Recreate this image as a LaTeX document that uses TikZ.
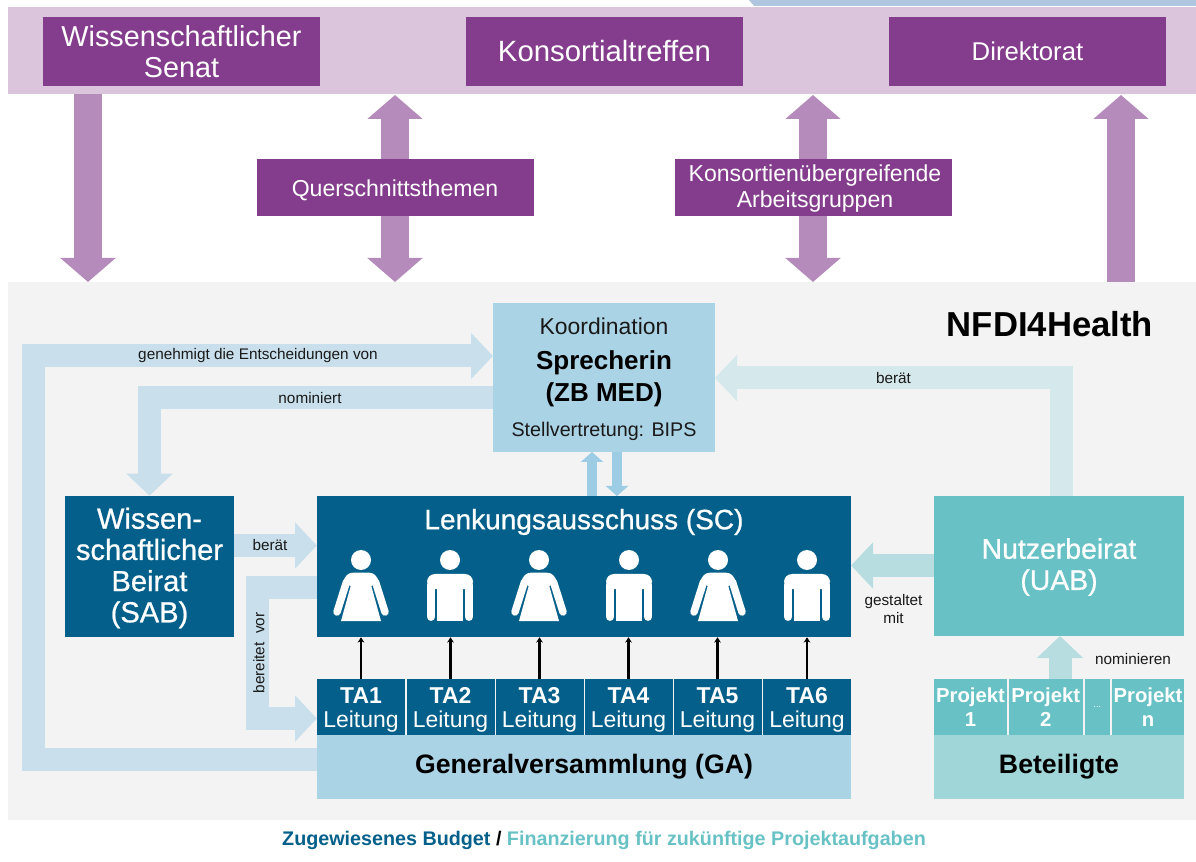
\documentclass[tikz,border=0pt]{standalone}
\usepackage{fontspec}
\setmainfont{Liberation Sans}
\newfontfamily\mediumfont[FakeBold=0.8]{Liberation Sans}
\usetikzlibrary{arrows.meta}
\definecolor{bandlila}{HTML}{DBC5DD}
\definecolor{boxlila}{HTML}{843D8C}
\definecolor{pfeillila}{HTML}{B58BBB}
\definecolor{topblau}{HTML}{AFC6DE}
\definecolor{grundgrau}{HTML}{F3F3F3}
\definecolor{dunkelblau}{HTML}{04608A}
\definecolor{hellblau}{HTML}{ABD3E6}
\definecolor{pfeilblau}{HTML}{C9E0EC}
\definecolor{mittelblau}{HTML}{9CCDE4}
\definecolor{tuerkis}{HTML}{68C2C5}
\definecolor{helltuerkis}{HTML}{A0D6D8}
\definecolor{pfeiltuerkis}{HTML}{B7DDE0}
\definecolor{blasstuerkis}{HTML}{D5E8EC}
\newcommand{\px}{.75pt}
\newcommand{\fsz}[2]{\fontsize{#1}{#2}\selectfont}
\tikzset{
box/.style={inner sep=0pt, align=center, text=white},
lilabox/.style={box, fill=boxlila, minimum width=277*\px},
tabox/.style={box, fill=dunkelblau, minimum width=88*\px, minimum height=56*\px, font=\fsz{17.2}{18}},
projbox/.style={box, fill=tuerkis, minimum height=56*\px},
lbl/.style={inner sep=0pt, align=center, text=black!90, font=\fsz{11.5}{14}},
lilaarrow/.style={line width=28*\px, draw=pfeillila, line join=miter},
flow/.style={line width=23*\px, line join=miter, -{Triangle[length=22*\px, width=45*\px]}},
slim/.style={line width=10.5*\px, draw=mittelblau, -{Triangle[length=10*\px, width=22*\px, fill=mittelblau]}},
leitarrow/.style={-{Stealth[length=4pt, width=5pt]}, line width=2.2pt, black},
pics/womanfig/.style={code={
\fill [white] (0,0) circle (10);
\fill [white] (0,12.7) -- (8,12.7) .. controls (13,12.7) and (16,16) .. (18,22) -- (10.3,26) -- (20,61) -- (-20,61) -- (-10.3,26) -- (-18,22) .. controls (-16,16) and (-13,12.7) .. (-8,12.7) -- cycle;
\draw [white, line width=7.5*\px, line cap=round] (14.5,22) -- (24,52);
\draw [white, line width=7.5*\px, line cap=round] (-14.5,22) -- (-24,52);
}},
pics/manfig/.style={code={
\fill [white] (0,0) circle (10);
\fill [white, rounded corners=6pt] (-23,14) rectangle (23,29);
\fill [white] (-13.3,20) rectangle (13.3,61);
\draw [white, line width=8.3*\px, line cap=round] (-18.9,25) -- (-18.9,56.8);
\draw [white, line width=8.3*\px, line cap=round] (18.9,25) -- (18.9,56.8);
}}
}
\begin{document}
\begin{tikzpicture}[x=\px, y=-\px]
\useasboundingbox (0,0) rectangle (1196,862);
\fill [topblau] (749,0) -- (754,6) -- (1196,6) -- (1196,0) -- cycle;
\fill [bandlila] (8,7) rectangle (1196,94);
\fill [grundgrau] (8,282) rectangle (1196,820);

\node [lilabox, minimum height=69*\px, font=\fsz{21.6}{23}] (senat) at (181.5,51.5) {Wissenschaftlicher\\Senat};
\node [lilabox, minimum height=69*\px, font=\fsz{22}{24}] (treffen) at (604.5,51.5) {Konsortialtreffen};
\node [lilabox, minimum height=69*\px, font=\fsz{19.3}{22}] (direktorat) at (1027.5,51.5) {Direktorat};

\coordinate (senatout) at (88,94);
\coordinate (senatin) at (88,282);
\coordinate (querup) at (395,95);
\coordinate (querdown) at (395,282);
\coordinate (agup) at (813,95);
\coordinate (agdown) at (813,282);
\coordinate (dirup) at (1121,95);
\coordinate (dirdown) at (1121,282);
\draw [lilaarrow, -{Triangle[length=24*\px, width=54*\px]}] (senatout) -- (senatin);
\draw [lilaarrow, {Triangle[length=24*\px, width=54*\px]}-{Triangle[length=24*\px, width=54*\px]}] (querup) -- (querdown);
\draw [lilaarrow, {Triangle[length=24*\px, width=54*\px]}-{Triangle[length=24*\px, width=54*\px]}] (agup) -- (agdown);
\draw [lilaarrow, -{Triangle[length=24*\px, width=54*\px]}] (dirdown) -- (dirup);

\node [lilabox, minimum height=57*\px] (quer) at (395.5,187.5) {};
\node [box, font=\fsz{17.3}{19.5}] (quertxt) at (395,190) {Querschnittsthemen};
\node [lilabox, minimum height=57*\px] (ag) at (813.5,187.5) {};
\node [box, font=\fsz{17.3}{19.5}] (agtxt) at (815,189) {Konsortienübergreifende\\Arbeitsgruppen};

\node [inner sep=0pt, font=\fsz{26}{30}\bfseries] (titel) at (1050,324) {NFDI4Health};

\node [box, fill=hellblau, minimum width=222*\px, minimum height=149*\px] (koord) at (604,377.5) {};
\node [lbl, font=\fsz{17.2}{19}] (koordtxt) at (604,326) {Koordination};
\node [lbl, font=\fsz{19.5}{24}\bfseries, text=black] (sprecher) at (604,379) {Sprecherin\\(ZB MED)};
\node [lbl, font=\fsz{14.8}{18}] (stellv) at (604,431) {Stellvertretung: BIPS};

\node [box, fill=dunkelblau, minimum width=169*\px, minimum height=141*\px] (sab) at (149.5,566.5) {};
\node [box, font=\fsz{21.8}{23.4}\mediumfont] (sabtxt) at (149.5,568) {Wissen-\\schaftlicher\\Beirat\\(SAB)};
\node [box, fill=dunkelblau, minimum width=534*\px, minimum height=141*\px] (sc) at (584,566.5) {};
\node [box, font=\fsz{21}{24}\mediumfont] (sctxt) at (584,522) {Lenkungsausschuss (SC)};

\node [tabox] (ta1) at (361,707) {\rule{0pt}{16.5pt}\textbf{TA1}\\Leitung};
\node [tabox] (ta2) at (450.5,707) {\rule{0pt}{16.5pt}\textbf{TA2}\\Leitung};
\node [tabox] (ta3) at (539.5,707) {\rule{0pt}{16.5pt}\textbf{TA3}\\Leitung};
\node [tabox] (ta4) at (628.5,707) {\rule{0pt}{16.5pt}\textbf{TA4}\\Leitung};
\node [tabox] (ta5) at (717.5,707) {\rule{0pt}{16.5pt}\textbf{TA5}\\Leitung};
\node [tabox] (ta6) at (807,707) {\rule{0pt}{16.5pt}\textbf{TA6}\\Leitung};
\node [box, fill=hellblau, text=black, minimum width=534*\px, minimum height=64*\px, font=\fsz{20}{24}\bfseries] (ga) at (584,767) {Generalversammlung (GA)};

\node [box, fill=tuerkis, minimum width=250*\px, minimum height=140*\px] (uab) at (1059,566) {};
\node [box, font=\fsz{21.3}{23.4}\mediumfont] (uabtxt) at (1059,567) {Nutzerbeirat\\(UAB)};
\node [projbox, minimum width=73*\px, font=\fsz{15.2}{17.5}\bfseries] (proj1) at (970.5,707) {Projekt\\1};
\node [projbox, minimum width=74.5*\px, font=\fsz{15.2}{17.5}\bfseries] (proj2) at (1045.8,707) {Projekt\\2};
\node [projbox, minimum width=25.5*\px, font=\fsz{7}{9}] (projdots) at (1097.3,707) {...};
\node [projbox, minimum width=72*\px, font=\fsz{15.2}{17.5}\bfseries] (projn) at (1148,707) {Projekt\\n};
\node [box, fill=helltuerkis, text=black, minimum width=250*\px, minimum height=64*\px, font=\fsz{20}{24}\bfseries] (bet) at (1059,767) {Beteiligte};

\pic (sc1) at (361,560) {womanfig};
\pic (sc2) at (450,560) {manfig};
\pic (sc3) at (539,560) {womanfig};
\pic (sc4) at (629,560) {manfig};
\pic (sc5) at (718,560) {womanfig};
\pic (sc6) at (807,560) {manfig};

\draw [leitarrow] (ta1.north) -- (ta1.north |- sc.south);
\draw [leitarrow] (ta2.north) -- (ta2.north |- sc.south);
\draw [leitarrow] (ta3.north) -- (ta3.north |- sc.south);
\draw [leitarrow] (ta4.north) -- (ta4.north |- sc.south);
\draw [leitarrow] (ta5.north) -- (ta5.north |- sc.south);
\draw [leitarrow] (ta6.north) -- (ta6.north |- sc.south);

\coordinate (gaout) at (317,759.5);
\coordinate (koordgen) at (493,356);
\coordinate (koordnom) at (493,397.5);
\coordinate (koordrat) at (715,378);
\coordinate (sabrat) at (234,545.5);
\coordinate (scrat) at (317,545.5);
\coordinate (scout) at (317,587.5);
\coordinate (taleit) at (317,718.5);
\coordinate (uabout) at (934,565.5);
\coordinate (scuab) at (851,565.5);
\coordinate (uabtop) at (1061,496);
\coordinate (uabbot) at (1060,636);
\coordinate (projtop) at (1060,679);
\coordinate (koordup) at (592,452);
\coordinate (scup) at (592,496);
\coordinate (koorddown) at (617,452);
\coordinate (scdown) at (617,496);

\draw [flow, draw=pfeilblau] (gaout) -- (33.5,759.5) -- (33.5,356) -- (koordgen);
\draw [flow, draw=pfeilblau] (koordnom) -- (149.5,397.5) -- (sab.north);
\draw [flow, draw=pfeilblau] (sabrat) -- (scrat);
\draw [flow, draw=pfeilblau] (scout) -- (257.5,587.5) -- (257.5,718.5) -- (taleit);
\draw [flow, draw=pfeiltuerkis] (uabout) -- (scuab);
\draw [flow, draw=pfeiltuerkis] (projtop) -- (uabbot);
\draw [flow, draw=blasstuerkis] (uabtop) -- (1061,378) -- (koordrat);
\draw [slim] (scup) -- (koordup);
\draw [slim] (koorddown) -- (scdown);

\node [lbl] (lblgen) at (258,356) {genehmigt die Entscheidungen von};
\node [lbl] (lblnom) at (310,398) {nominiert};
\node [lbl] (lblrat) at (270,545) {berät};
\node [lbl] (lbluabrat) at (893.5,378) {berät};
\node [lbl, rotate=90] (lblvor) at (259,653) {bereitet\ \ vor};
\node [lbl] (lblmit) at (893.5,609) {gestaltet\\mit};
\node [lbl] (lblnomin) at (1133,659) {nominieren};

\node [inner sep=0pt, font=\fsz{14.8}{17}\bfseries] (fuss) at (604,840) {\textcolor{dunkelblau}{Zugewiesenes Budget} / \textcolor{tuerkis}{Finanzierung für zukünftige Projektaufgaben}};
\end{tikzpicture}
\end{document}
